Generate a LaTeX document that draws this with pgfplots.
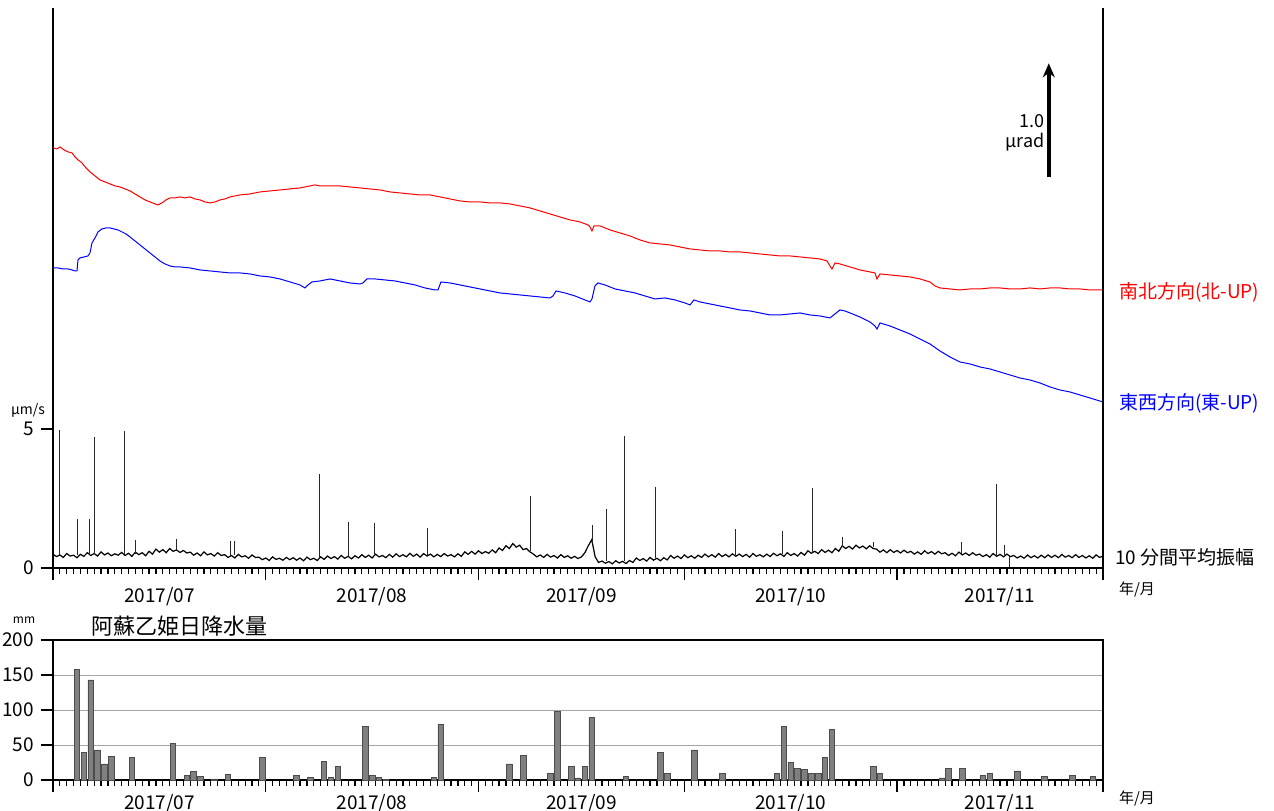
\documentclass[border=0pt]{standalone}
\usepackage{pgfplots}
\pgfplotsset{compat=1.18}
\usepackage{pgfplotstable}
\usepackage{fontspec}
\setmainfont{Noto Sans CJK JP}
\usetikzlibrary{arrows.meta}

% tilt traces, read as pixel positions of the reference (x px, y px)
\pgfplotstableread{
px py
53 148
57 149
60 147
64 150
68 152
72 153
75 157
78 160
82 163
86 168
90 172
95 176
100 180
105 182
110 184
115 186
120 187
125 189
130 191
135 194
140 197
145 200
150 202
155 204
158 205
162 203
166 200
170 198
175 198
180 197
185 198
190 197
195 199
200 200
205 202
210 203
215 202
220 200
225 199
230 197
240 195
250 194
260 192
270 191
280 190
290 189
300 188
310 186
315 185
320 186
330 186
340 186
350 187
360 188
370 189
380 190
390 192
400 193
410 194
420 195
430 195
440 197
450 199
460 201
470 202
480 202
490 203
500 203
510 204
520 206
530 208
540 211
550 214
560 217
570 220
580 222
588 225
590 227
592 231
594 226
600 226
610 230
620 233
630 236
640 240
650 243
660 244
670 245
680 247
690 249
700 250
710 251
720 251
730 252
740 252
750 253
760 254
770 255
780 256
790 256
800 257
810 258
820 259
827 261
830 266
832 269
835 263
840 264
850 267
860 270
870 272
875 273
877 279
880 274
890 275
900 276
910 277
920 279
930 282
935 286
940 288
950 289
960 290
970 289
980 289
990 288
1000 288
1010 289
1020 289
1030 288
1040 289
1050 288
1060 288
1070 289
1080 289
1090 290
1103 290
}\nsdata

\pgfplotstableread{
px py
53 268
58 268
63 269
68 269
72 270
75 271
77 271
78 260
80 258
84 257
88 256
90 253
92 243
95 238
98 232
102 229
106 228
110 228
114 229
118 230
122 232
126 234
130 237
135 241
140 245
145 249
150 253
155 257
160 261
165 264
170 266
175 267
180 267
190 268
200 270
210 271
220 272
230 273
240 273
250 274
260 276
270 277
280 279
290 282
300 285
305 288
308 285
312 282
320 281
330 279
340 281
350 283
360 284
363 283
367 279
375 279
385 280
395 281
405 283
415 285
425 288
435 290
438 290
441 282
450 283
460 285
470 287
480 289
490 291
500 293
510 294
520 295
530 296
540 297
550 298
553 296
556 291
565 293
575 296
585 300
590 302
592 299
595 286
598 283
605 285
615 289
625 291
635 293
645 296
655 299
665 298
675 300
685 303
690 305
694 300
700 302
710 304
720 306
730 308
740 310
750 311
760 313
770 315
780 315
790 314
800 313
810 315
820 316
830 318
835 314
840 310
845 311
850 313
860 317
870 322
875 326
877 329
880 323
890 326
900 330
910 334
920 339
930 344
940 351
950 357
960 362
970 364
980 367
990 369
1000 372
1010 375
1020 378
1030 380
1040 383
1050 387
1060 390
1070 392
1080 395
1090 398
1103 402
}\ewdata

% 10-minute mean amplitude, one value every half day from 1 July
\pgfplotstableread[header=false,row sep=\\]{
0.50\\0.41\\0.47\\0.38\\0.52\\0.43\\0.46\\0.37\\0.49\\0.42\\
0.55\\0.45\\0.52\\0.43\\0.58\\0.47\\0.54\\0.44\\0.51\\0.46\\
0.56\\0.45\\0.53\\0.42\\0.57\\0.48\\0.55\\0.44\\0.60\\0.50\\
0.68\\0.57\\0.66\\0.55\\0.70\\0.60\\0.65\\0.56\\0.63\\0.54\\
0.57\\0.46\\0.54\\0.44\\0.58\\0.47\\0.52\\0.43\\0.55\\0.45\\
0.48\\0.38\\0.45\\0.36\\0.49\\0.40\\0.44\\0.35\\0.47\\0.38\\
0.39\\0.30\\0.36\\0.27\\0.40\\0.31\\0.35\\0.28\\0.38\\0.30\\
0.37\\0.28\\0.36\\0.26\\0.39\\0.30\\0.35\\0.27\\0.40\\0.31\\
0.43\\0.34\\0.41\\0.32\\0.45\\0.35\\0.42\\0.33\\0.44\\0.36\\
0.48\\0.38\\0.46\\0.36\\0.50\\0.40\\0.45\\0.37\\0.49\\0.39\\
0.51\\0.41\\0.48\\0.40\\0.53\\0.42\\0.50\\0.39\\0.52\\0.43\\
0.50\\0.40\\0.49\\0.41\\0.52\\0.43\\0.48\\0.40\\0.51\\0.42\\
0.58\\0.49\\0.60\\0.50\\0.62\\0.52\\0.59\\0.53\\0.65\\0.55\\
0.72\\0.63\\0.80\\0.70\\0.88\\0.75\\0.82\\0.66\\0.70\\0.58\\
0.50\\0.40\\0.47\\0.38\\0.49\\0.39\\0.45\\0.36\\0.48\\0.38\\
0.44\\0.35\\0.42\\0.34\\0.40\\0.55\\0.80\\1.02\\0.40\\0.20\\
0.25\\0.17\\0.23\\0.15\\0.26\\0.18\\0.24\\0.16\\0.27\\0.20\\
0.36\\0.27\\0.34\\0.25\\0.38\\0.28\\0.35\\0.26\\0.37\\0.29\\
0.45\\0.35\\0.43\\0.34\\0.47\\0.37\\0.44\\0.35\\0.46\\0.38\\
0.50\\0.40\\0.48\\0.39\\0.52\\0.41\\0.49\\0.40\\0.51\\0.42\\
0.50\\0.41\\0.49\\0.39\\0.52\\0.42\\0.48\\0.40\\0.50\\0.41\\
0.53\\0.44\\0.51\\0.42\\0.55\\0.45\\0.52\\0.43\\0.56\\0.46\\
0.62\\0.53\\0.60\\0.52\\0.66\\0.56\\0.64\\0.55\\0.70\\0.60\\
0.80\\0.70\\0.78\\0.68\\0.82\\0.72\\0.79\\0.69\\0.80\\0.70\\
0.68\\0.57\\0.65\\0.55\\0.66\\0.56\\0.63\\0.54\\0.64\\0.55\\
0.60\\0.50\\0.58\\0.49\\0.62\\0.52\\0.59\\0.50\\0.60\\0.51\\
0.55\\0.45\\0.53\\0.44\\0.57\\0.47\\0.54\\0.45\\0.55\\0.46\\
0.50\\0.41\\0.48\\0.39\\0.52\\0.42\\0.49\\0.40\\0.50\\0.41\\
0.45\\0.36\\0.43\\0.35\\0.47\\0.37\\0.44\\0.36\\0.46\\0.37\\
0.47\\0.38\\0.46\\0.37\\0.49\\0.39\\0.45\\0.37\\0.48\\0.38\\
0.45\\0.36\\0.44\\0.35\\0.47\\0.38\\0.43\\
}\seis

\pgfplotsset{
  dateaxis/.style={
    xmin=0, xmax=153,
    tick align=outside,
    xtick={0,31,62,92,123,153}, xticklabels={},
    minor xtick={0,1,...,153},
    extra x ticks={15.5,46.5,77,107.5,138},
    extra x tick labels={2017/07,2017/08,2017/09,2017/10,2017/11},
    major tick length=6pt, minor tick length=3pt,
    every tick/.append style={black, line width=0.7pt},
    minor tick style={line width=0.6pt},
    ticklabel style={font=\fontsize{9.5}{10}\selectfont},
    /pgf/number format/assume math mode=true,
    axis line style={line width=1.3pt},
  }
}

\begin{document}
\begin{tikzpicture}
\useasboundingbox (0,0) rectangle (637pt,405pt);

\begin{axis}[
  dateaxis,
  extra x tick style={tick style={draw=none}},
  at={(26.5pt,121pt)}, anchor=south west,
  width=525pt, height=280pt, scale only axis,
  ymin=0, ymax=20.14,
  axis x line*=bottom, axis y line*=left,
  tick align=outside,
  ytick={0,5},
  clip=false,
]
\addplot[red, line width=0.5pt] table[x expr={(\thisrow{px}-53)/6.863}, y expr={(568-\thisrow{py})/27.8}] {\nsdata};
\addplot[blue, line width=0.5pt] table[x expr={(\thisrow{px}-53)/6.863}, y expr={(568-\thisrow{py})/27.8}] {\ewdata};
\addplot[black, line width=0.6pt] table[x expr={\coordindex*0.5}, y index=0] {\seis};
\addplot[black!85, line width=0.4pt, unbounded coords=jump] coordinates {
(1.0,0.45) (1.0,4.96) (1.0,nan)
(3.5,0.45) (3.5,1.75) (3.5,nan)
(5.25,0.45) (5.25,1.76) (5.25,nan)
(6.1,0.5) (6.1,4.72) (6.1,nan)
(10.35,0.5) (10.35,4.93) (10.35,nan)
(12.0,0.5) (12.0,1.0) (12.0,nan)
(18.0,0.6) (18.0,1.05) (18.0,nan)
(25.8,0.45) (25.8,0.97) (25.8,nan)
(26.5,0.45) (26.5,0.97) (26.5,nan)
(38.8,0.35) (38.8,3.38) (38.8,nan)
(43.1,0.4) (43.1,1.65) (43.1,nan)
(46.9,0.45) (46.9,1.62) (46.9,nan)
(54.6,0.45) (54.6,1.44) (54.6,nan)
(69.6,0.6) (69.6,2.59) (69.6,nan)
(78.6,0.9) (78.6,1.55) (78.6,nan)
(80.6,0.25) (80.6,2.12) (80.6,nan)
(83.2,0.25) (83.2,4.75) (83.2,nan)
(87.8,0.35) (87.8,2.91) (87.8,nan)
(99.5,0.45) (99.5,1.4) (99.5,nan)
(106.3,0.5) (106.3,1.33) (106.3,nan)
(110.7,0.55) (110.7,2.88) (110.7,nan)
(115.0,0.75) (115.0,1.1) (115.0,nan)
(119.5,0.75) (119.5,0.95) (119.5,nan)
(132.3,0.5) (132.3,0.95) (132.3,nan)
(137.5,0.45) (137.5,3.02) (137.5,nan)
(138.6,0.45) (138.6,0.83) (138.6,nan)
(139.4,0.45) (139.4,0.05) (139.4,nan)
};
\draw[line width=1.3pt] (rel axis cs:1,0) -- (rel axis cs:1,1);
\draw[line width=2pt, -{Stealth[length=7pt,width=6pt]}] (axis cs:145.1,14.06) -- (axis cs:145.1,18.15);
\node[anchor=east, inner sep=1pt, font=\fontsize{9}{10}\selectfont] at (axis cs:144.8,16.08) {1.0};
\node[anchor=east, inner sep=1pt, font=\fontsize{9}{10}\selectfont] at (axis cs:144.8,15.3) {μrad};
\end{axis}

\begin{axis}[
  dateaxis,
  extra x tick style={tick style={draw=none}, xticklabel style={yshift=2.5pt}},
  at={(26.5pt,15pt)}, anchor=south west,
  width=525pt, height=70pt, scale only axis,
  ymin=0, ymax=200,
  xtick pos=bottom, ytick pos=left,
  ytick={0,50,100,150,200},
  ymajorgrids, grid style={gray!70, line width=0.5pt},
]
\addplot[ybar, bar width=2.8pt, fill=gray, draw=black!70, line width=0.4pt] coordinates {
(3.5,158) (4.5,40) (5.5,143) (6.5,43) (7.5,23) (8.5,34) (11.5,32) (17.5,52)
(19.5,6) (20.5,12) (21.5,5) (23.5,1.5) (25.5,8) (30.5,32) (35.5,7) (37.5,4)
(39.5,27) (40.5,4) (41.5,19) (45.5,77) (46.5,7) (47.5,4) (48.5,1) (55.5,4)
(56.5,80) (66.5,23) (68.5,35) (72.5,10) (73.5,98) (75.5,20) (76.5,3) (77.5,19)
(78.5,89) (83.5,5) (88.5,40) (89.5,10) (93.5,43) (97.5,9) (105.5,10) (106.5,76)
(107.5,25) (108.5,16) (109.5,15) (110.5,9) (111.5,9) (112.5,32) (113.5,72)
(119.5,19.5) (120.5,10) (129.5,3) (130.5,16) (132.5,16) (135.5,6) (136.5,9.5)
(140.5,13) (144.5,5) (148.5,7) (151.5,5)
};
\end{axis}

% annotations outside the axes
\node[anchor=west, text=red, font=\fontsize{9.5}{10}\selectfont] at (556pt,259pt) {南北方向(北-UP)};
\node[anchor=west, text=blue, font=\fontsize{9.5}{10}\selectfont] at (556pt,203.5pt) {東西方向(東-UP)};
\node[anchor=west, font=\fontsize{9.5}{10}\selectfont] at (554pt,126.5pt) {10 分間平均振幅};
\node[anchor=west, font=\fontsize{7.5}{8}\selectfont] at (556pt,110pt) {年/月};
\node[anchor=west, font=\fontsize{7.5}{8}\selectfont] at (556pt,5.5pt) {年/月};
\node[font=\fontsize{7}{8}\selectfont] at (14pt,200pt) {μm/s};
\node[font=\fontsize{6}{7}\selectfont] at (12pt,95pt) {mm};
\node[anchor=west, font=\fontsize{11}{12}\selectfont] at (42pt,92pt) {阿蘇乙姫日降水量};
\end{tikzpicture}
\end{document}
